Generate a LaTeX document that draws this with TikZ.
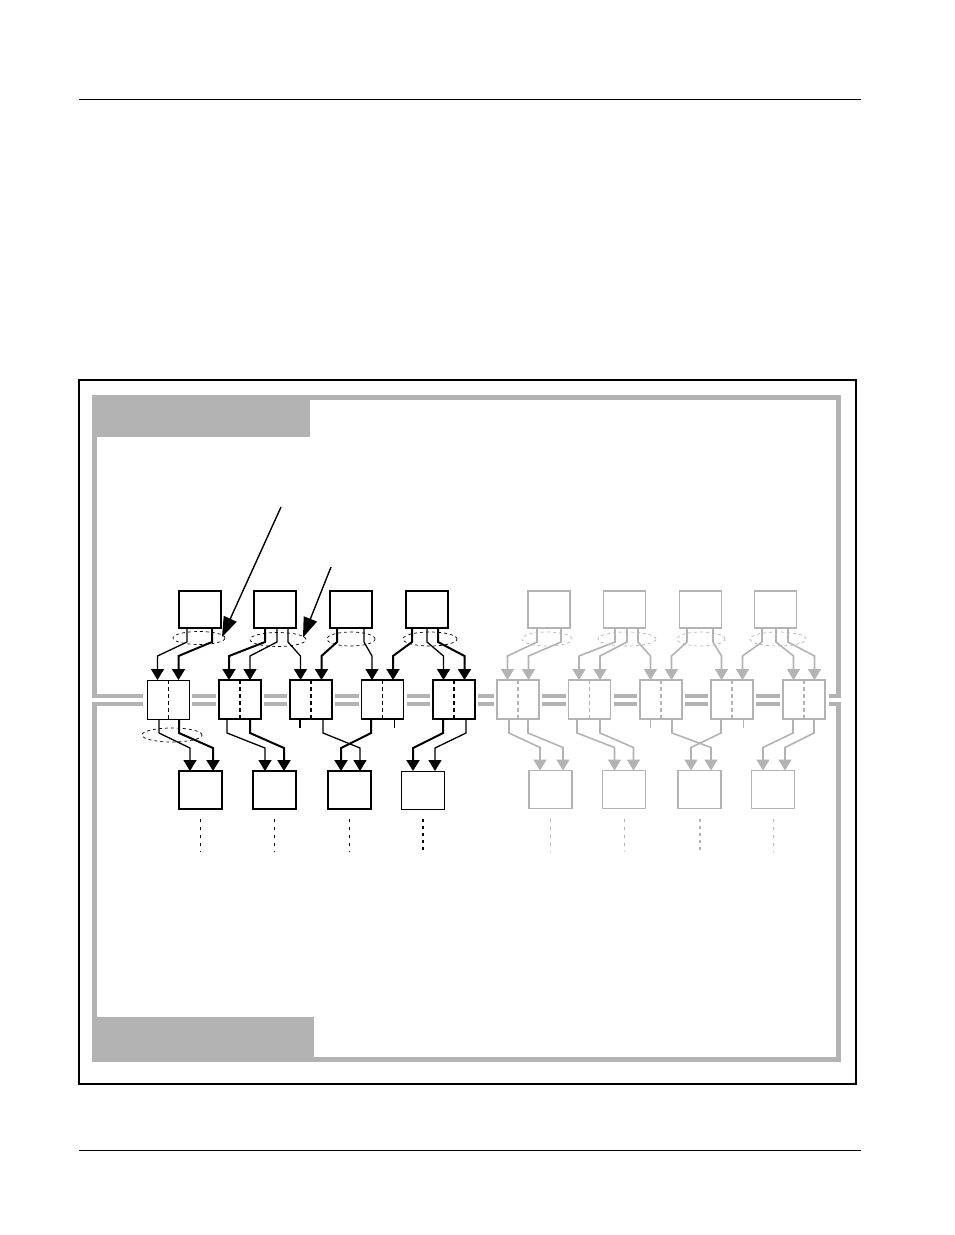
\documentclass[tikz,border=0pt]{standalone}
\usetikzlibrary{arrows.meta,shapes.geometric,calc}
\definecolor{fg}{RGB}{179,179,179}
\newcommand\tconn[5]{\draw[#1] ([xshift=#3pt]#2.south west) -- ++(0,14) -- ([xshift=#5pt,yshift=24pt]#4.north west) -- ([xshift=#5pt]#4.north west);}
\newcommand\bconn[5]{\draw[#1] ([xshift=#3pt]#2.south west) -- ++(0,14) -- ([xshift=#5pt,yshift=23pt]#4.north west) -- ([xshift=#5pt]#4.north west);}
\begin{document}
\begin{tikzpicture}[x=1pt,y=-1pt,
  box/.style={draw, inner sep=0pt, outer sep=0pt, minimum width=42pt, minimum height=37pt, line width=2pt},
  blk/.style={draw, inner sep=0pt, outer sep=0pt, minimum width=42pt, minimum height=39pt},
  bbox/.style={draw, inner sep=0pt, outer sep=0pt, minimum width=43pt, minimum height=38pt, line width=2pt},
  gr/.style={draw=fg, line width=1.5pt},
  con/.style={-{Triangle[length=11pt,width=13pt]}, line width=1.3pt, line join=miter},
  thk/.style={line width=2pt},
  gcon/.style={con, color=fg, line width=1.6pt},
  div/.style={dash pattern=on 4pt off 3pt},
  oval/.style={ellipse, draw, dash pattern=on 3pt off 3pt, line width=0.7pt, inner sep=0pt, outer sep=0pt},
  dotl/.style={dash pattern=on 3pt off 5pt, line width=1pt},
  bus/.style={draw=fg, line width=4pt},
  frm/.style={draw=fg, line width=5pt, line join=miter},
  ptr/.style={-{Triangle[length=20pt,width=14pt]}, line width=1.4pt}]
\useasboundingbox (0,0) rectangle (954,1235);
% page rules
\draw[line width=1pt] (79,99) -- (861,99);
\draw[line width=1pt] (79,1150) -- (861,1150);
% outer frame
\draw[line width=2pt] (79,380) rectangle (855.5,1084);
% gray frame
\fill[fg] (92,395) rectangle (310,437);
\fill[fg] (92,1017) rectangle (314,1062);
\draw[frm] (94.5,698) -- (94.5,397.5) -- (838,397.5) -- (838,698);
\draw[frm] (94.5,702) -- (94.5,1059.5) -- (838,1059.5) -- (838,702);
% top boxes
\node[box] (T1) at (200,609.5) {};
\node[box] (T2) at (275,609.5) {};
\node[box] (T3) at (350.5,609.5) {};
\node[box] (T4) at (426.5,609.5) {};
\node[box,gr] (T5) at (549,609.5) {};
\node[box,gr] (T6) at (624.5,609.5) {};
\node[box,gr] (T7) at (700.5,609.5) {};
\node[box,gr] (T8) at (775.5,609.5) {};
% blocks
\node[blk,line width=1pt] (B1) at (168,699.5) {};
\node[blk,line width=2pt] (B2) at (239.5,699.5) {};
\node[blk,line width=1.6pt] (B3) at (311,699.5) {};
\node[blk,line width=1.3pt] (B4) at (382.5,699.5) {};
\node[blk,line width=2pt] (B5) at (454,699.5) {};
\node[blk,gr] (B6) at (518,699.5) {};
\node[blk,gr] (B7) at (589.5,699.5) {};
\node[blk,gr] (B8) at (661,699.5) {};
\node[blk,gr] (B9) at (732,699.5) {};
\node[blk,gr] (B10) at (804,699.5) {};
% dividers
\draw[div,line width=1pt] (B1.north) -- (B1.south);
\draw[div,line width=2pt] (B2.north) -- (B2.south);
\draw[div,line width=2pt] (B3.north) -- (B3.south);
\draw[div,line width=1pt] (B4.north) -- (B4.south);
\draw[div,line width=2pt] (B5.north) -- (B5.south);
\foreach \b in {B6,B7,B8,B9,B10} \draw[div,draw=fg,line width=1.2pt] (\b.north) -- (\b.south);
% bus
\draw[bus] (92,696) -- ([xshift=-4pt,yshift=3.5pt]B1.west);
\draw[bus] (92,704) -- ([xshift=-4pt,yshift=-4.5pt]B1.west);
\foreach \a/\b in {B1/B2,B2/B3,B3/B4,B4/B5,B5/B6,B6/B7,B7/B8,B8/B9,B9/B10}{
  \draw[bus] ([xshift=3pt,yshift=3.5pt]\a.east) -- ([xshift=-3pt,yshift=3.5pt]\b.west);
  \draw[bus] ([xshift=3pt,yshift=-4.5pt]\a.east) -- ([xshift=-3pt,yshift=-4.5pt]\b.west);
}
\draw[bus] ([xshift=4pt,yshift=3.5pt]B10.east) -- (840.5,696);
\draw[bus] ([xshift=4pt,yshift=-4.5pt]B10.east) -- (840.5,704);
% bottom boxes
\node[bbox] (BB1) at (200.5,790) {};
\node[bbox,line width=1.8pt] (BB2) at (274.5,790) {};
\node[bbox] (BB3) at (349.5,790) {};
\node[bbox,line width=1pt] (BB4) at (423,790) {};
\node[bbox,gr] (BB5) at (550.5,789.5) {};
\node[bbox,gr] (BB6) at (624,789.5) {};
\node[bbox,gr] (BB7) at (699.5,789.5) {};
\node[bbox,gr] (BB8) at (773,789.5) {};
% dotted continuations
\foreach \b in {BB1,BB2,BB3} \draw[dotl] ([yshift=-10pt]\b.south) -- ++(0,33);
\draw[dotl,line width=2pt,dash pattern=on 3pt off 4pt] ([yshift=-10pt]BB4.south) -- ++(0,33);
\foreach \b in {BB5,BB6,BB8} \draw[dotl,draw=fg] ([yshift=-10pt]\b.south) -- ++(0,33);
\draw[dotl,draw=fg,line width=2pt,dash pattern=on 3pt off 4pt] ([yshift=-10pt]BB7.south) -- ++(0,33);
% dashed ovals
\node[oval,minimum width=52pt,minimum height=13pt] (O1) at (199,638) {};
\node[oval,minimum width=56pt,minimum height=14pt] (O2) at (278,639.5) {};
\node[oval,minimum width=48pt,minimum height=14pt] (O3) at (351,639) {};
\node[oval,minimum width=54pt,minimum height=14pt] (O4) at (430,639) {};
\node[oval,draw=fg,minimum width=50pt,minimum height=14pt] (O5) at (547,639) {};
\node[oval,draw=fg,minimum width=58pt,minimum height=14pt] (O6) at (627,639) {};
\node[oval,draw=fg,minimum width=48pt,minimum height=14pt] (O7) at (701,639) {};
\node[oval,draw=fg,minimum width=56pt,minimum height=14pt] (O8) at (778,639) {};
\node[oval,minimum width=60pt,minimum height=14pt] (OB1) at (172,735) {};
% top connectors (black)
\tconn{con}{T1}{8}{B1}{10.5}
\tconn{con,thk}{T1}{33}{B1}{31.5}
\tconn{con,thk}{T2}{11}{B2}{10.5}
\tconn{con}{T2}{23}{B2}{31.5}
\tconn{con}{T2}{34}{B3}{10.5}
\tconn{con,thk}{T3}{7.5}{B3}{31.5}
\tconn{con}{T3}{34.5}{B4}{10.5}
\tconn{con,thk}{T4}{6.5}{B4}{31.5}
\tconn{con}{T4}{21.5}{B5}{10.5}
\tconn{con,thk}{T4}{32.5}{B5}{31.5}
% top connectors (gray)
\tconn{gcon}{T5}{9}{B6}{10.5}
\tconn{gcon}{T5}{33}{B6}{31.5}
\tconn{gcon}{T6}{11.5}{B7}{10.5}
\tconn{gcon}{T6}{23.5}{B7}{31.5}
\tconn{gcon}{T6}{34.5}{B8}{10.5}
\tconn{gcon}{T7}{7.5}{B8}{31.5}
\tconn{gcon}{T7}{33.5}{B9}{10.5}
\tconn{gcon}{T8}{7.5}{B9}{31.5}
\tconn{gcon}{T8}{21.5}{B10}{10.5}
\tconn{gcon}{T8}{33.5}{B10}{31.5}
% bottom connectors (black)
\bconn{con}{B1}{12}{BB1}{11}
\bconn{con,thk}{B1}{32}{BB1}{34}
\bconn{con}{B2}{8.5}{BB2}{12}
\bconn{con,thk}{B2}{31.5}{BB2}{31}
\bconn{con}{B3}{33}{BB3}{32}
\bconn{con,thk}{B4}{9.5}{BB3}{13}
\bconn{con,thk}{B5}{10}{BB4}{11.5}
\bconn{con}{B5}{33}{BB4}{33.5}
\draw[thk] ([xshift=10pt]B3.south west) -- ++(0,9);
\draw[line width=1pt] ([xshift=32.5pt]B4.south west) -- ++(0,9);
% bottom connectors (gray)
\bconn{gcon}{B6}{12}{BB5}{11}
\bconn{gcon}{B6}{31}{BB5}{34}
\bconn{gcon}{B7}{8.5}{BB6}{12}
\bconn{gcon}{B7}{31.5}{BB6}{31}
\bconn{gcon}{B8}{32}{BB7}{33}
\bconn{gcon}{B9}{10}{BB7}{13}
\bconn{gcon}{B10}{10}{BB8}{11.5}
\bconn{gcon}{B10}{31}{BB8}{33.5}
\draw[draw=fg,line width=1pt] ([xshift=10pt]B8.south west) -- ++(0,9);
\draw[draw=fg,line width=1pt] ([xshift=32pt]B9.south west) -- ++(0,9);
% pointer arrows
\coordinate (PA) at (281,507);
\coordinate (PB) at (331,567);
\draw[ptr] (PA) -- ([xshift=-3pt,yshift=1pt]O1.east);
\draw[ptr] (PB) -- ([xshift=-3pt,yshift=2pt]O2.east);
\end{tikzpicture}
\end{document}
